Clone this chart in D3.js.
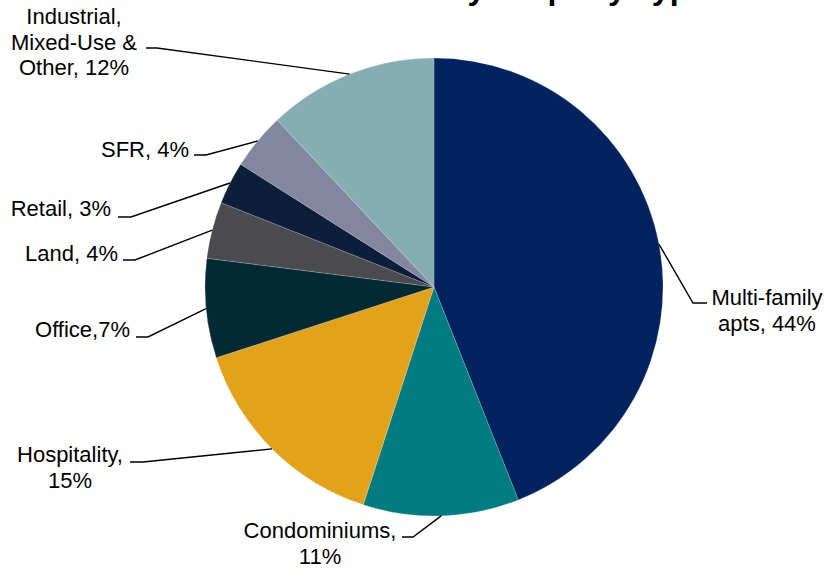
<!DOCTYPE html>
<html>
<head>
<meta charset="utf-8">
<script src="https://cdn.jsdelivr.net/npm/d3@7"></script>
<style>
  html, body { margin: 0; padding: 0; background: #ffffff; }
  svg { display: block; }
  text { font-family: Arial, "Liberation Sans", sans-serif; fill: #000; }
</style>
</head>
<body>
<svg id="chart" width="825" height="569"></svg>
<script>
// ---- Data ----
const title = "Loans by Property Type";
const categories = ["Multi-family apts", "Condominiums", "Hospitality", "Office", "Land", "Retail", "SFR", "Industrial, Mixed-Use & Other"];
const values = [44, 11, 15, 7, 4, 3, 4, 12];
const labelLines = [
  ["Multi-family", "apts, 44%"],
  ["Condominiums,", "11%"],
  ["Hospitality,", "15%"],
  ["Office,7%"],
  ["Land, 4%"],
  ["Retail, 3%"],
  ["SFR, 4%"],
  ["Industrial,", "Mixed-Use &", "Other, 12%"]
];
const colors = ["#002360", "#007B80", "#E2A31A", "#022A35", "#4B4B4F", "#0B1F3A", "#82869F", "#85AEB3"];

// ---- Layout (label placement) ----
const labelLayout = [
  {x: 767, y: 305, anchor: "middle", hx1: 707, hx2: 693, hy: 303},
  {x: 320, y: 538, anchor: "middle", hx1: 402, hx2: 413, hy: 537},
  {x: 70,  y: 462, anchor: "middle", hx1: 130, hx2: 143, hy: 462},
  {x: 130, y: 337, anchor: "end",    hx1: 136, hx2: 148, hy: 337},
  {x: 118, y: 261, anchor: "end",    hx1: 123, hx2: 135, hy: 260},
  {x: 111, y: 216, anchor: "end",    hx1: 118, hx2: 131, hy: 217},
  {x: 189, y: 157, anchor: "end",    hx1: 194, hx2: 206, hy: 155},
  {x: 74,  y: 24,  anchor: "middle", hx1: 146, hx2: 157, hy: 48}
];

const cx = 434, cy = 287, R = 229;
const lineHeight = 25.6;

const svg = d3.select("#chart");

// Title (mostly cut off at top in reference)
svg.append("text")
  .attr("x", 707).attr("y", -1.5)
  .attr("text-anchor", "end")
  .style("font-size", "32px").style("font-weight", "bold")
  .text(title);

const pie = d3.pie().sort(null).value(d => d).startAngle(0).endAngle(2 * Math.PI);
const arcs = pie(values);
const arc = d3.arc().innerRadius(0).outerRadius(R);

const g = svg.append("g").attr("transform", `translate(${cx},${cy})`);
g.selectAll("path.slice")
  .data(arcs)
  .join("path")
  .attr("class", "slice")
  .attr("d", arc)
  .attr("fill", (d, i) => colors[i])
  .attr("stroke", "#ffffff")
  .attr("stroke-opacity", 0.35)
  .attr("stroke-width", 0.5);

// Leader lines
const line = d3.line();
arcs.forEach((d, i) => {
  const L = labelLayout[i];
  const a = (d.startAngle + d.endAngle) / 2;
  const px = cx + R * Math.sin(a);
  const py = cy - R * Math.cos(a);
  svg.append("path")
    .attr("d", line([[L.hx1, L.hy], [L.hx2, L.hy], [px, py]]))
    .attr("fill", "none")
    .attr("stroke", "#000")
    .attr("stroke-width", 1.4);
});

// Labels
arcs.forEach((d, i) => {
  const L = labelLayout[i];
  const t = svg.append("text")
    .attr("text-anchor", L.anchor)
    .style("font-size", "22px");
  labelLines[i].forEach((s, k) => {
    t.append("tspan").attr("x", L.x).attr("y", L.y + k * lineHeight).text(s);
  });
});
</script>
</body>
</html>
